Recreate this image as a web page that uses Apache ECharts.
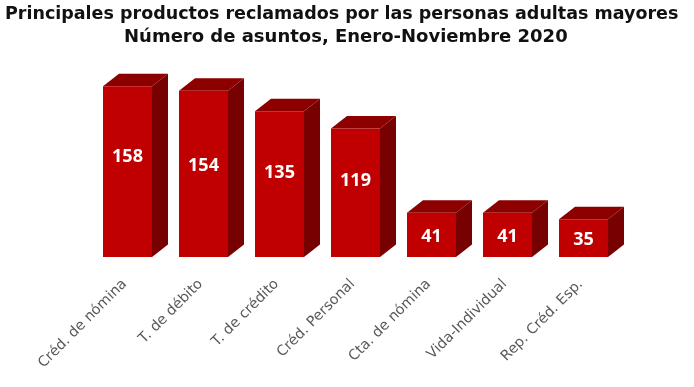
<!DOCTYPE html>
<html><head><meta charset="utf-8">
<style>html,body{margin:0;padding:0;background:#fff}#c{width:694px;height:387px}</style>
<script src="https://cdn.jsdelivr.net/npm/echarts@6/dist/echarts.min.js"></script>
</head><body><div id="c"></div>
<script>
const categories = ['Créd. de nómina','T. de débito','T. de crédito','Créd. Personal','Cta. de nómina','Vida-Individual','Rep. Créd. Esp.'];
const values = [158,154,135,119,41,41,35];
const labelNudges = [-15,-8,-11,-12,2,2,2];
const titleLines = ['Principales productos reclamados por las personas adultas mayores','Número de asuntos, Enero-Noviembre 2020'];
const chart = echarts.init(document.getElementById('c'), null, {renderer:'canvas'});
const DX = 16, DY = 12.5;
const titleFont = {fontFamily:'DejaVu Sans',fontWeight:'bold',color:'#111'};
chart.setOption({
  animation:false,
  backgroundColor:'#fff',
  title:[
    {text:titleLines[0],left:5,top:5,padding:0,textStyle:{...titleFont,fontSize:17.5}},
    {text:titleLines[1],left:124,top:28,padding:0,textStyle:{...titleFont,fontSize:18}}
  ],
  grid:{left:89.5,right:72.5,top:41,bottom:130},
  xAxis:{type:'category',data:categories,axisLine:{show:false},axisTick:{show:false},
    axisLabel:{rotate:45,interval:0,margin:22,padding:[0,4,0,0],fontFamily:'DejaVu Sans',fontSize:14.3,color:'#595959'}},
  yAxis:{type:'value',min:0,max:200,show:false},
  series:[{
    type:'custom',
    data:values.map((v,i)=>[i,v]),
    encode:{x:0,y:1},
    renderItem(params,api){
      const i = api.value(0);
      const base = api.coord([i,0]);
      const top = api.coord([i,api.value(1)]);
      const w = api.size([1,0])[0]*0.645;
      const l = base[0]-w/2, r = base[0]+w/2, b = base[1], t = top[1];
      return {type:'group',children:[
        {type:'polygon',shape:{points:[[r,b],[r+DX,b-DY],[r+DX,t-DY],[r,t]]},style:{fill:'#770000'}},
        {type:'polygon',shape:{points:[[l,t],[l+DX,t-DY],[r+DX,t-DY],[r,t]]},style:{fill:'#8c0000'}},
        {type:'rect',shape:{x:l,y:t,width:w,height:b-t},style:{fill:'#c00000'}},
        {type:'text',x:base[0],y:(t+b)/2+labelNudges[i],style:{text:String(api.value(1)),fill:'#fff',align:'center',verticalAlign:'middle',
          font:'bold 18px "Open Sans"'}}
      ]};
    }
  }]
});
</script></body></html>
